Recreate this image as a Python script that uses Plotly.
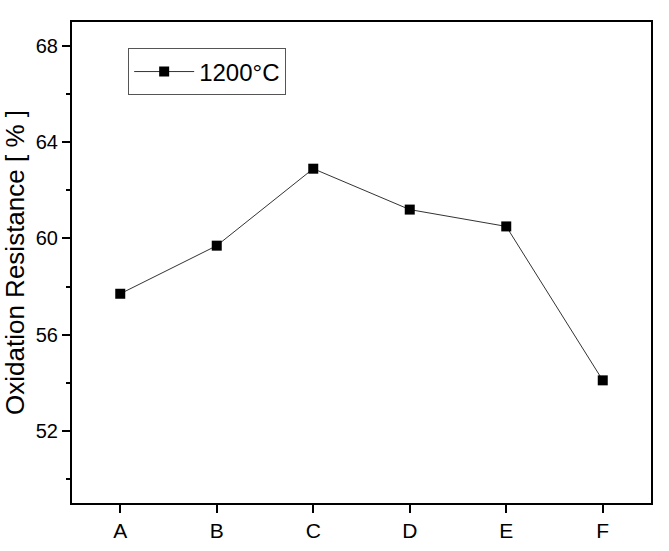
import plotly.graph_objects as go

categories = ["A", "B", "C", "D", "E", "F"]
values_1200 = [57.7, 59.7, 62.9, 61.2, 60.5, 54.1]
series_name = "1200°C"
y_ticks = [52, 56, 60, 64, 68]

FONT = "Liberation Sans, Arial, sans-serif"

fig = go.Figure()
fig.add_trace(go.Scatter(
    x=categories, y=values_1200, name=series_name,
    mode="lines+markers",
    line=dict(color="#333333", width=1),
    marker=dict(symbol="square", size=10, color="black"),
    showlegend=True,
))

fig.update_layout(
    width=669, height=551,
    margin=dict(l=72, r=18, t=22, b=48),
    paper_bgcolor="white", plot_bgcolor="white",
    font=dict(family=FONT, color="black", size=20),
    showlegend=True,
    legend=dict(
        x=0.097, y=0.945, xanchor="left", yanchor="top",
        bordercolor="#555555", borderwidth=1, bgcolor="white",
        font=dict(size=24, family=FONT),
        itemwidth=60,
    ),
    xaxis=dict(
        type="category", range=[-0.5, 5.5], automargin=False,
        showline=True, linecolor="black", linewidth=2, mirror=True,
        ticks="outside", ticklen=8, tickwidth=2, tickcolor="black",
        showgrid=False, zeroline=False,
        tickfont=dict(size=21),
    ),
    yaxis=dict(
        range=[49, 69], tickvals=y_ticks, automargin=False,
        showline=True, linecolor="black", linewidth=2, mirror=True,
        ticks="outside", ticklen=8, tickwidth=2, tickcolor="black",
        minor=dict(dtick=2, tick0=50, ticks="outside", ticklen=4, tickwidth=2, tickcolor="black", showgrid=False),
        showgrid=False, zeroline=False,
        tickfont=dict(size=20),
        title=dict(text="Oxidation Resistance [ % ]", font=dict(size=26), standoff=12),
    ),
)

fig.write_html("out.html")
